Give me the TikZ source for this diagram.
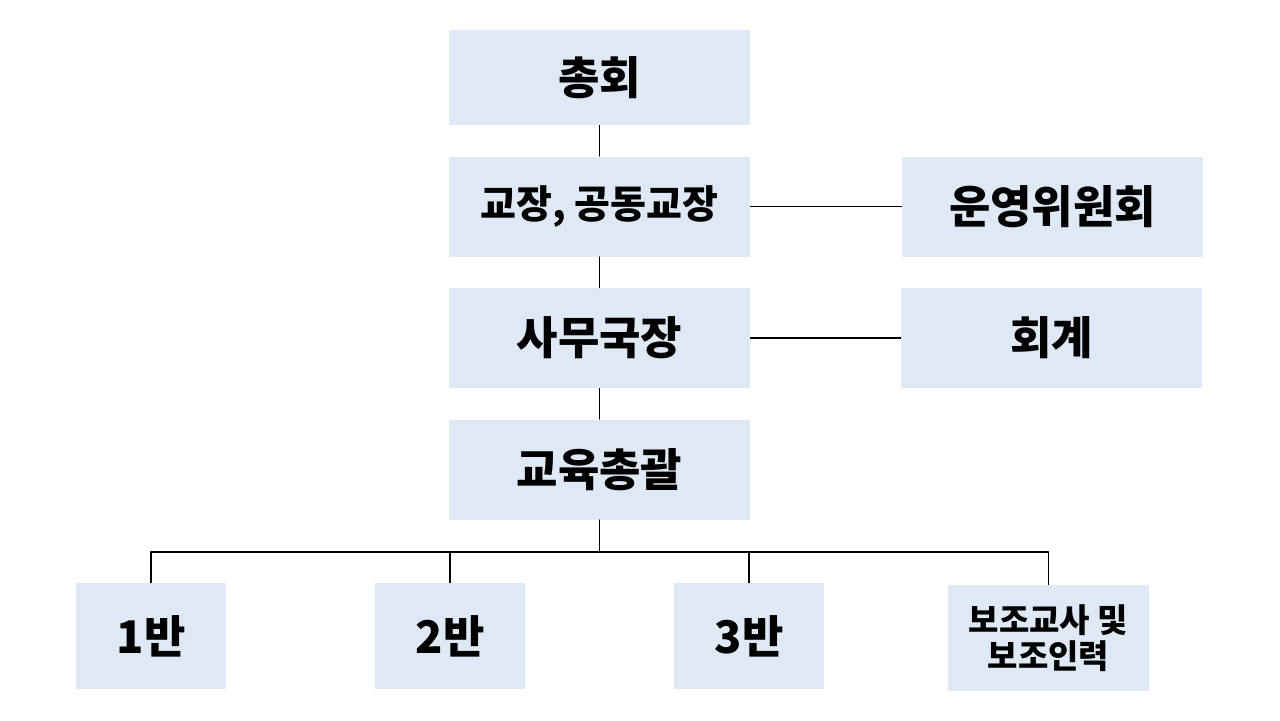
\documentclass[tikz,border=0pt]{standalone}
\usepackage{fontspec}
\setmainfont{Noto Sans CJK KR}
\usepackage{tikz}

\definecolor{boxblue}{RGB}{222,233,245}

\tikzset{
    orgbox/.style={fill=boxblue, inner sep=0pt, align=center,
        font=\fontsize{22.5}{26}\selectfont\bfseries},
    wide/.style={minimum width=150.5pt, minimum height=50pt},
    narrow/.style={minimum width=75pt, minimum height=53pt},
    link/.style={line width=0.6pt}
}

\begin{document}
\begin{tikzpicture}[x=0.5pt,y=-0.5pt, line cap=round, line join=round]
    \useasboundingbox (0,0) rectangle (1280,720);

    % Main column
    \node[orgbox, wide, minimum height=47.5pt] (chonghoe) at (599.5,77.5) {총회};
    \node[orgbox, wide, font=\fontsize{19.5}{23}\selectfont\bfseries] (gyojang) at (599.5,206.5) {교장, 공동교장};
    \node[orgbox, wide] (samu) at (599.5,338) {사무국장};
    \node[orgbox, wide] (gyoyuk) at (599.5,469.5) {교육총괄};

    % Side boxes
    \node[orgbox, wide] (unyeong) at (1052.5,206.5) {운영위원회};
    \node[orgbox, wide] (hoegye) at (1051.5,338) {회계};

    % Classes
    \node[orgbox, narrow] (ban1) at (151,636) {1반};
    \node[orgbox, narrow] (ban2) at (450,636) {2반};
    \node[orgbox, narrow] (ban3) at (749,636) {3반};
    \node[orgbox, narrow, minimum width=100.5pt, font=\fontsize{16.5}{18}\selectfont\bfseries]
        (bojo) at (1048.5,638) {보조교사 및\\보조인력};

    % Connectors
    \draw[link] (chonghoe) -- (gyojang);
    \draw[link] (gyojang) -- (samu);
    \draw[link] (samu) -- (gyoyuk);
    \draw[link] (gyojang) -- (unyeong);
    \draw[link] (samu) -- (hoegye);

    % Bus to classes
    \coordinate (bus) at (599.5,552);
    \draw[link] (gyoyuk) -- (bus);
    \foreach \b in {ban1,ban2,ban3,bojo}
        \draw[link] (\b.north) |- (bus);
\end{tikzpicture}
\end{document}
